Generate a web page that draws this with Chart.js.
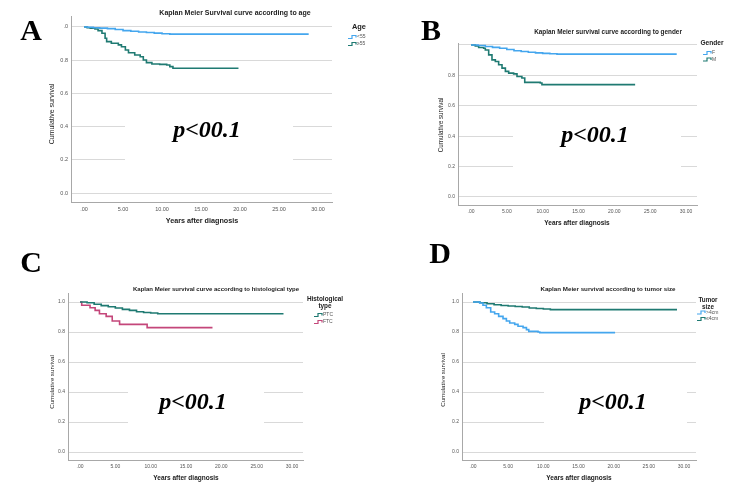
<!DOCTYPE html>
<html>
<head>
  <meta charset="UTF-8">
  <title>Kaplan Meier survival curves</title>
  <script src="https://cdn.jsdelivr.net/npm/chart.js"></script>
  <style>
    body {
      margin: 0;
      background: #fff;
    }
    #wrap {
      position: relative;
      width: 750px;
      height: 493px;
      overflow: hidden;
    }
    canvas {
      position: absolute;
    }
  </style>
</head>
<body>
  <div id="wrap">
    <canvas id="chartA" width="375" height="236" style="left:0;top:0"></canvas>
    <canvas id="chartB" width="375" height="236" style="left:375px;top:0"></canvas>
    <canvas id="chartC" width="375" height="257" style="left:0;top:236px"></canvas>
    <canvas id="chartD" width="375" height="257" style="left:375px;top:236px"></canvas>
  </div>

  <script>
    // axis ticks
    const xTickValues = [0, 5, 10, 15, 20, 25, 30];
    const xTickLabels = ['.00', '5.00', '10.00', '15.00', '20.00', '25.00', '30.00'];
    const yTickValues = [0, 0.2, 0.4, 0.6, 0.8, 1.0];
    const yTickLabelsA = ['0.0', '0.2', '0.4', '0.6', '0.8', '.0'];
    const yTickLabelsB = ['0.0', '0.2', '0.4', '0.6', '0.8', ''];
    const yTickLabelsCD = ['0.0', '0.2', '0.4', '0.6', '0.8', '1.0'];

    // A - age
    const ageLt55Time = [0, 0.5, 1.2, 2, 3, 4, 5, 6, 7, 8, 9, 10, 11, 28.8];
    const ageLt55Surv = [1, 0.998, 0.995, 0.993, 0.99, 0.985, 0.978, 0.974, 0.97, 0.967, 0.963, 0.959, 0.957, 0.957];
    const ageGe55Time = [0, 0.4, 0.8, 1.4, 1.8, 2.3, 2.7, 2.9, 3.5, 4.4, 4.8, 5.3, 5.7, 6.5, 7.2, 7.6, 8.0, 8.7, 9.7, 10.6, 11.0, 11.4, 19.8];
    const ageGe55Surv = [1, 0.995, 0.992, 0.988, 0.978, 0.962, 0.932, 0.912, 0.902, 0.892, 0.881, 0.861, 0.845, 0.831, 0.821, 0.801, 0.785, 0.777, 0.775, 0.771, 0.761, 0.751, 0.751];

    // B - gender
    const femaleTime = [0, 1, 2, 3, 4, 5, 6, 7, 8, 9, 10, 11, 12, 28.7];
    const femaleSurv = [1, 0.997, 0.99, 0.984, 0.978, 0.97, 0.962, 0.957, 0.952, 0.948, 0.945, 0.942, 0.94, 0.94];
    const maleTime = [0, 0.6, 1.07, 1.77, 2.0, 2.47, 2.93, 3.4, 3.86, 4.33, 4.8, 5.26, 5.95, 6.42, 7.1, 7.5, 9.67, 9.9, 22.9];
    const maleSurv = [1, 0.993, 0.983, 0.978, 0.967, 0.935, 0.902, 0.891, 0.87, 0.848, 0.826, 0.815, 0.81, 0.793, 0.783, 0.754, 0.75, 0.739, 0.739];

    // C - histological type
    const ptcTime = [0, 1, 2, 3, 4, 5, 6, 7, 8, 9, 10, 11, 28.8];
    const ptcSurv = [1, 0.995, 0.985, 0.976, 0.968, 0.96, 0.951, 0.944, 0.935, 0.93, 0.927, 0.922, 0.922];
    const ftcTime = [0, 0.24, 1.42, 2.14, 2.75, 3.7, 4.56, 5.6, 9.5, 18.75];
    const ftcSurv = [1, 0.978, 0.962, 0.944, 0.922, 0.904, 0.873, 0.851, 0.829, 0.829];

    // D - tumor size
    const bigTumorTime = [0, 0.95, 1.42, 1.9, 2.52, 3.08, 3.65, 4.27, 4.75, 5.22, 5.93, 6.4, 7.12, 7.6, 7.93, 9.25, 9.5, 20.2];
    const bigTumorSurv = [1, 0.993, 0.978, 0.962, 0.933, 0.922, 0.904, 0.889, 0.873, 0.86, 0.851, 0.838, 0.829, 0.816, 0.804, 0.8, 0.796, 0.796];
    const smallTumorTime = [0, 1, 2, 3, 4, 5, 6, 7, 8, 9, 10, 11, 29];
    const smallTumorSurv = [1, 0.995, 0.988, 0.982, 0.977, 0.973, 0.97, 0.967, 0.96, 0.957, 0.953, 0.949, 0.949];

    const BLUE = '#44a6ee';
    const TEAL = '#1f7a72';
    const PINK = '#c4467a';
    const SANS = '"Liberation Sans", Arial, sans-serif';
    const SERIF = '"Liberation Serif", "Times New Roman", serif';

    function toPoints(time, surv) {
      return time.map((t, i) => ({ x: t, y: surv[i] }));
    }

    function stepIcon(ctx, x, y, color) {
      ctx.save();
      ctx.strokeStyle = color;
      ctx.lineWidth = 1.2;
      ctx.beginPath();
      ctx.moveTo(x, y + 1.5);
      ctx.lineTo(x + 4, y + 1.5);
      ctx.lineTo(x + 4, y - 1.5);
      ctx.lineTo(x + 8, y - 1.5);
      ctx.lineTo(x + 8, y + 0.5);
      ctx.stroke();
      ctx.restore();
    }

    function makeKM(id, p) {
      const decor = {
        id: 'decor',
        afterDraw(chart) {
          const ctx = chart.ctx;
          ctx.save();

          // white patch behind the p value
          ctx.fillStyle = '#fff';
          ctx.fillRect(p.box[0], p.box[1], p.box[2] - p.box[0], p.box[3] - p.box[1]);

          ctx.fillStyle = '#000';
          ctx.textAlign = 'center';
          ctx.textBaseline = 'alphabetic';
          ctx.font = 'italic bold 24px ' + SERIF;
          ctx.fillText('p<00.1', p.pText[0], p.pText[1]);

          ctx.font = 'bold 30px ' + SERIF;
          ctx.fillText(p.letter, p.letterPos[0], p.letterPos[1]);

          ctx.fillStyle = '#222';
          ctx.textBaseline = 'middle';
          ctx.font = 'bold ' + p.titleSize + 'px ' + SANS;
          ctx.fillText(p.title, p.titlePos[0], p.titlePos[1]);

          ctx.font = 'bold ' + p.xTitleSize + 'px ' + SANS;
          ctx.fillText('Years after diagnosis', p.xTitlePos[0], p.xTitlePos[1]);

          ctx.save();
          ctx.translate(p.yTitlePos[0], p.yTitlePos[1]);
          ctx.rotate(-Math.PI / 2);
          ctx.font = p.yTitleSize + 'px ' + SANS;
          ctx.fillText('Cumulative survival', 0, 0);
          ctx.restore();

          // legend
          ctx.font = 'bold ' + p.legendTitleSize + 'px ' + SANS;
          p.legendTitle.forEach((line, i) => {
            ctx.fillText(line, p.legendTitlePos[0], p.legendTitlePos[1] + i * 7);
          });
          ctx.textAlign = 'left';
          ctx.fillStyle = '#555';
          ctx.font = '5px ' + SANS;
          p.series.forEach((s, i) => {
            const y = p.legendRows[i];
            stepIcon(ctx, p.legendX, y, s.color);
            ctx.fillText(s.label, p.legendX + 9, y);
          });
          ctx.restore();
        }
      };

      return new Chart(document.getElementById(id), {
        type: 'line',
        data: {
          datasets: p.series.map(s => ({
            label: s.label,
            data: toPoints(s.time, s.surv),
            stepped: 'before',
            borderColor: s.color,
            borderWidth: 1.6,
            pointRadius: 0,
            fill: false
          }))
        },
        options: {
          responsive: false,
          animation: false,
          layout: { padding: { top: p.padTop, right: p.padRight, bottom: 0, left: 0 } },
          plugins: {
            legend: { display: false },
            tooltip: { enabled: false }
          },
          scales: {
            x: {
              type: 'linear',
              min: p.xMin,
              max: p.xMax,
              afterFit: s => { s.height = p.xAxisHeight; },
              afterBuildTicks: s => { s.ticks = xTickValues.map(v => ({ value: v })); },
              ticks: {
                callback: (v, i) => xTickLabels[i],
                font: { size: p.tickSize, family: SANS },
                color: '#555',
                padding: 4,
                maxRotation: 0,
                autoSkip: false
              },
              grid: { display: false, drawTicks: false },
              border: { display: true, color: '#a8a8a8', width: 1 }
            },
            y: {
              min: p.yMin,
              max: p.yMax,
              afterFit: s => { s.width = p.yAxisWidth; },
              afterBuildTicks: s => { s.ticks = yTickValues.map(v => ({ value: v })); },
              ticks: {
                callback: (v, i) => p.yLabels[i],
                font: { size: p.tickSize, family: SANS },
                color: '#555',
                padding: 3,
                autoSkip: false
              },
              grid: { color: '#d9d9d9', drawTicks: false, lineWidth: 1 },
              border: { display: true, color: '#a8a8a8', width: 1 }
            }
          }
        },
        plugins: [decor]
      });
    }

    makeKM('chartA', {
      series: [
        { label: '<55', time: ageLt55Time, surv: ageLt55Surv, color: BLUE },
        { label: '\u226555', time: ageGe55Time, surv: ageGe55Surv, color: TEAL }
      ],
      yLabels: yTickLabelsA,
      xMin: -1.67, xMax: 31.79, yMin: -0.054, yMax: 1.066,
      padTop: 16, padRight: 43, yAxisWidth: 71, xAxisHeight: 34,
      tickSize: 5.5,
      title: 'Kaplan Meier Survival curve according to age', titleSize: 7, titlePos: [235, 13],
      xTitleSize: 7.2, xTitlePos: [202, 221],
      yTitleSize: 7, yTitlePos: [52, 114],
      legendTitle: ['Age'], legendTitleSize: 7.4, legendTitlePos: [359, 27],
      legendX: 348, legendRows: [37, 44],
      letter: 'A', letterPos: [31, 40],
      pText: [207, 137], box: [125, 104, 293, 182]
    });

    makeKM('chartB', {
      series: [
        { label: 'F', time: femaleTime, surv: femaleSurv, color: BLUE },
        { label: 'M', time: maleTime, surv: maleSurv, color: TEAL }
      ],
      yLabels: yTickLabelsB,
      xMin: -1.81, xMax: 31.53, yMin: -0.053, yMax: 1.013,
      padTop: 43, padRight: 53, yAxisWidth: 83, xAxisHeight: 31,
      tickSize: 5,
      title: 'Kaplan Meier survival curve according to gender', titleSize: 6.4, titlePos: [233, 32],
      xTitleSize: 6.5, xTitlePos: [202, 223],
      yTitleSize: 6.3, yTitlePos: [66, 125],
      legendTitle: ['Gender'], legendTitleSize: 6.6, legendTitlePos: [337, 43],
      legendX: 328, legendRows: [53, 59.5],
      letter: 'B', letterPos: [56, 40],
      pText: [220, 142], box: [138, 114, 306, 186]
    });

    // C and D canvases start at y=236, local y = global y - 236
    makeKM('chartC', {
      series: [
        { label: 'PTC', time: ptcTime, surv: ptcSurv, color: TEAL },
        { label: 'FTC', time: ftcTime, surv: ftcSurv, color: PINK }
      ],
      yLabels: yTickLabelsCD,
      xMin: -1.7, xMax: 31.56, yMin: -0.053, yMax: 1.06,
      padTop: 57, padRight: 72, yAxisWidth: 68, xAxisHeight: 33,
      tickSize: 5,
      title: 'Kaplan Meier survival curve according to histological type', titleSize: 6, titlePos: [216, 53],
      xTitleSize: 6.5, xTitlePos: [186, 242],
      yTitleSize: 6.2, yTitlePos: [52, 146],
      legendTitle: ['Histological', 'type'], legendTitleSize: 6.4, legendTitlePos: [325, 63],
      legendX: 314, legendRows: [79, 86],
      letter: 'C', letterPos: [31, 36],
      pText: [193, 173], box: [128, 136, 264, 206]
    });

    makeKM('chartD', {
      series: [
        { label: '>4cm', time: bigTumorTime, surv: bigTumorSurv, color: BLUE },
        { label: '\u22644cm', time: smallTumorTime, surv: smallTumorSurv, color: TEAL }
      ],
      yLabels: yTickLabelsCD,
      xMin: -1.56, xMax: 31.7, yMin: -0.053, yMax: 1.06,
      padTop: 57, padRight: 54, yAxisWidth: 87, xAxisHeight: 33,
      tickSize: 5,
      title: 'Kaplan Meier survival according to tumor size', titleSize: 6.2, titlePos: [233, 53],
      xTitleSize: 6.5, xTitlePos: [204, 242],
      yTitleSize: 6.2, yTitlePos: [68, 144],
      legendTitle: ['Tumor', 'size'], legendTitleSize: 6.3, legendTitlePos: [333, 64],
      legendX: 322, legendRows: [76.5, 83],
      letter: 'D', letterPos: [65, 27],
      pText: [238, 173], box: [169, 136, 312, 206]
    });
  </script>
</body>
</html>
